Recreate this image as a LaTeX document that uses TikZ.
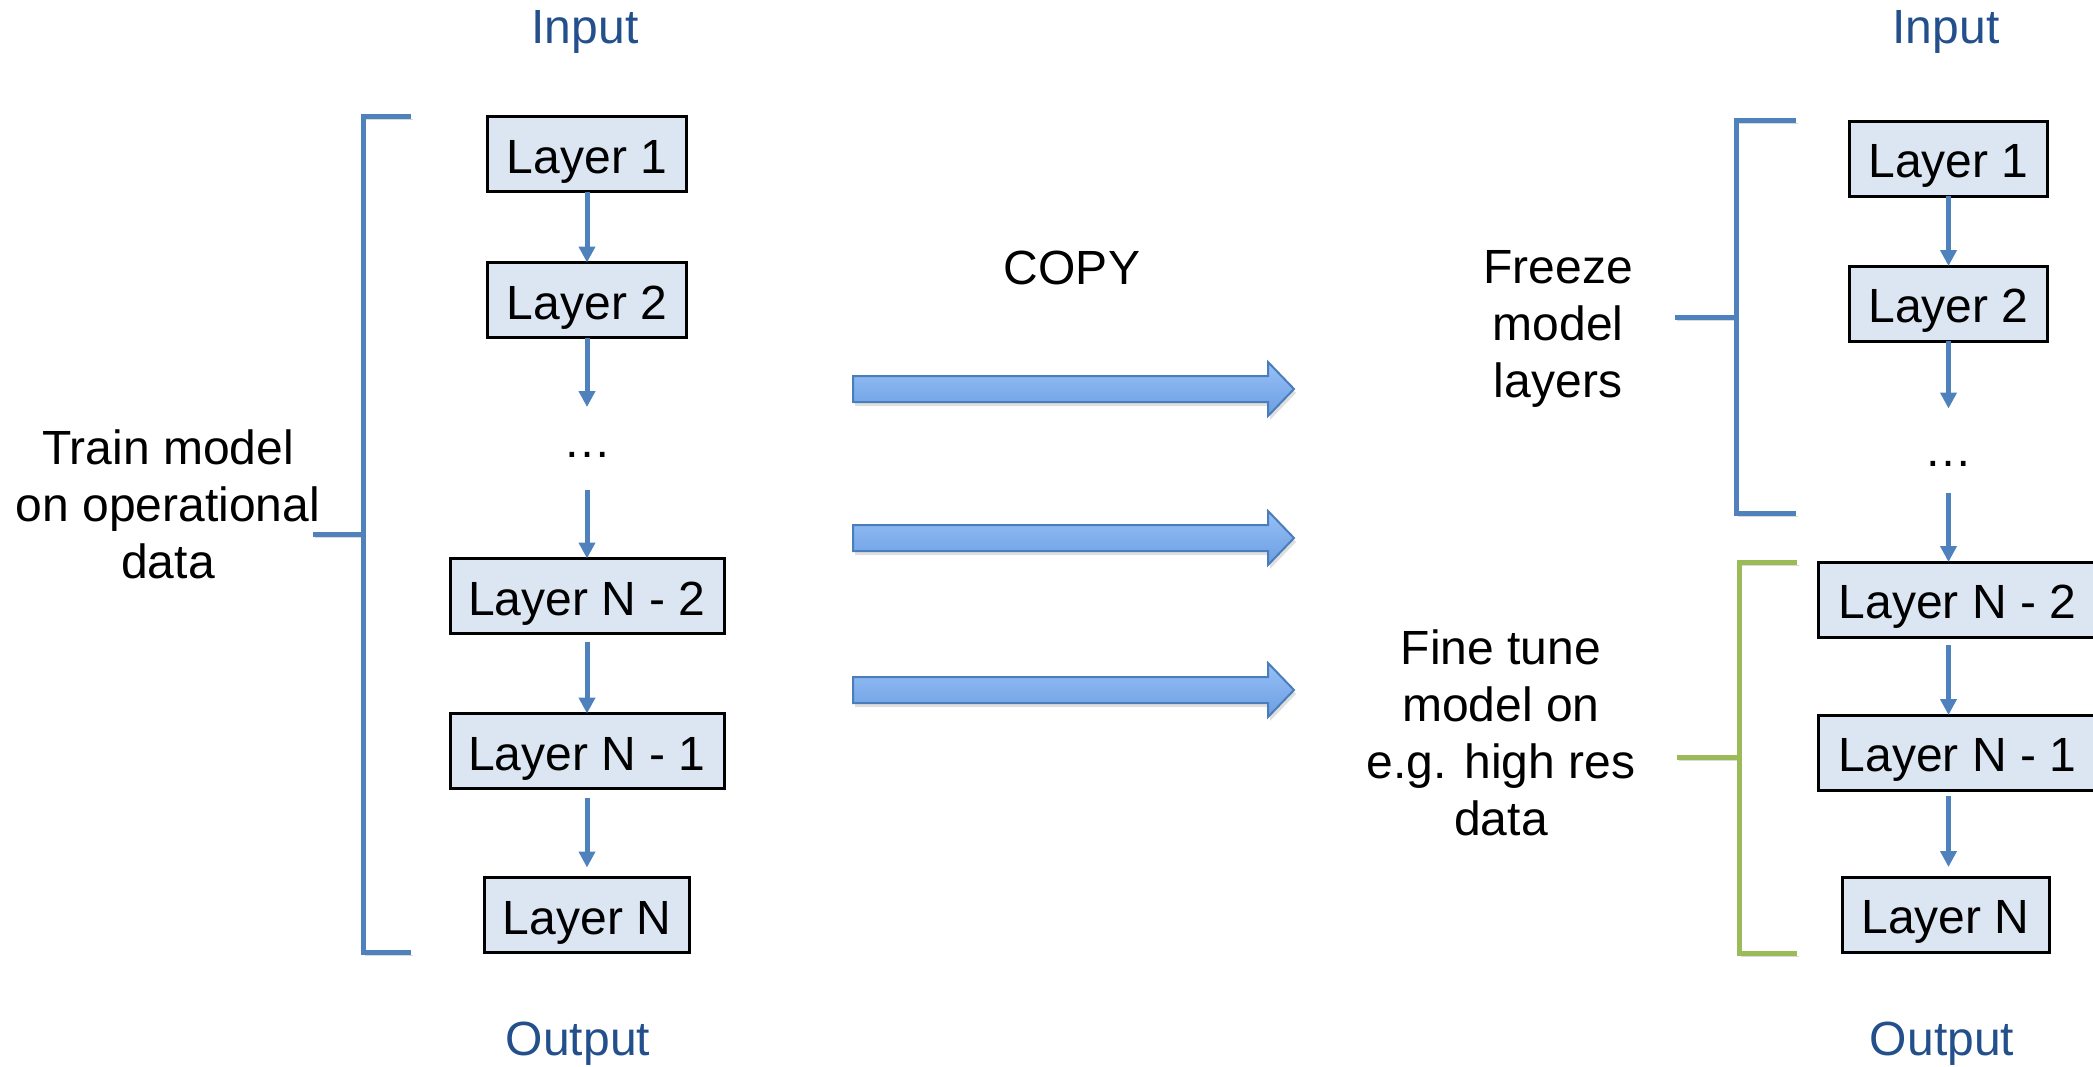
\documentclass[tikz,border=0pt]{standalone}
\usepackage{fontspec}
\setmainfont{Liberation Sans}
\usetikzlibrary{arrows.meta,positioning,shadows}
\definecolor{colIO}{HTML}{23508C}
\definecolor{colBlue}{HTML}{4F81BD}
\definecolor{colGreen}{HTML}{9BBB59}
\definecolor{colFill}{HTML}{DCE6F2}
\definecolor{colArrTop}{HTML}{97C0F7}
\definecolor{colArrBot}{HTML}{6B9EE1}
\definecolor{colArrLine}{HTML}{4A7EBB}
\tikzset{
  layer/.style={draw=black,line width=1.5pt,fill=colFill,minimum height=37.5pt,
    inner sep=0pt,outer sep=0pt,text height=19pt,text depth=0pt,font=\fontsize{24}{28.5}\selectfont},
  lbl/.style={align=center,font=\fontsize{24}{28.5}\selectfont},
  dots/.style={font=\fontsize{24}{28.5}\selectfont,inner sep=0pt,outer sep=0pt,text depth=0pt},
  iolbl/.style={text=colIO,font=\fontsize{24}{28.5}\selectfont},
  larr/.style={-{Triangle[length=8pt,width=8pt]},line width=2.5pt,draw=colBlue},
  brk/.style={line width=2.5pt,preaction={draw=black!15,transform canvas={shift={(1pt,-1.5pt)}}}},
  copyarr/.style={draw=colArrLine,line width=1pt,top color=colArrTop,bottom color=colArrBot,
    drop shadow={opacity=0.25,shadow xshift=1pt,shadow yshift=-2pt}},
}

\begin{document}
\begin{tikzpicture}[x=0.5pt,y=-0.5pt]
  \useasboundingbox (0,0) rectangle (2093,1066);
  % left: original model
  \node[iolbl] (lin) at (585,32) {Input};
  \node[layer,minimum width=99.5pt] (l1) at (587,154) {Layer 1};
  \node[layer,minimum width=99.5pt,below=35.5pt of l1] (l2) {Layer 2};
  \node[dots,text height=8.5pt,minimum height=41.5pt,below=34.75pt of l2] (ldots) {…};
  \node[layer,minimum width=137pt,below=34.25pt of ldots] (lN2) {Layer N - 2};
  \node[layer,minimum width=137pt,below=40pt of lN2] (lN1) {Layer N - 1};
  \node[layer,minimum width=102.5pt,below=44.5pt of lN1] (lN) {Layer N};
  \node[iolbl] (lout) at (578,1044) {Output};
  \draw[larr] (l1) -- (l2);
  \draw[larr] (l2) -- (ldots);
  \draw[larr] (ldots) -- (lN2);
  \draw[larr,shorten <=4pt] (lN2) -- (lN1);
  \draw[larr,shorten <=4.5pt,shorten >=5pt] (lN1) -- (lN);
  \node[lbl] (ltrain) at (168,504) {Train model\\on operational\\data};
  \draw[brk,colBlue] (411,116) -- (363,116) -- (363,952) -- (411,952) (313,534) -- (363,534);

  % copy arrows
  \node[lbl] (copy) at (1072,268) {COPY};
  \foreach \y in {389,538,690}
    \draw[copyarr] (853,\y-13) -- (1268,\y-13) -- (1268,\y-27) -- (1294,\y)
      -- (1268,\y+27) -- (1268,\y+13) -- (853,\y+13) -- cycle;

  % right: transferred model
  \node[iolbl] (rin) at (1946,32) {Input};
  \node[layer,minimum width=99pt] (r1) at (1948.5,158.5) {Layer 1};
  \node[layer,minimum width=99pt,below=35pt of r1] (r2) {Layer 2};
  \node[dots,text height=15.5pt,minimum height=42pt,below=33.75pt of r2] (rdots) {…};
  \node[layer,minimum width=139.5pt,below=34.75pt of rdots,xshift=4.5pt] (rN2) {Layer N - 2};
  \node[layer,minimum width=139.5pt,below=39pt of rN2] (rN1) {Layer N - 1};
  \node[layer,minimum width=103.5pt,below=43.5pt of rN1,xshift=-6pt] (rN) {Layer N};
  \node[iolbl] (rout) at (1942,1044) {Output};
  \draw[larr] (r1) -- (r2);
  \draw[larr] (r2) -- (rdots);
  \draw[larr] (rdots.south) -- (rdots.south |- rN2.north);
  \draw[larr,shorten <=4pt] (rdots |- rN2.south) -- (rdots |- rN1.north);
  \draw[larr,shorten <=3pt,shorten >=5pt] (rdots |- rN1.south) -- (rdots |- rN.north);
  \node[lbl] (rfreeze) at (1558,329) {Freeze\\model\\layers};
  \node[lbl] (rtune) at (1501,733) {Fine tune\\model on\\e.g. high res\\data};
  \draw[brk,colBlue] (1796,120) -- (1736,120) -- (1736,513) -- (1796,513) (1675,317) -- (1736,317);
  \draw[brk,colGreen] (1797,562) -- (1739,562) -- (1739,953) -- (1797,953) (1677,757) -- (1739,757);
\end{tikzpicture}
\end{document}
